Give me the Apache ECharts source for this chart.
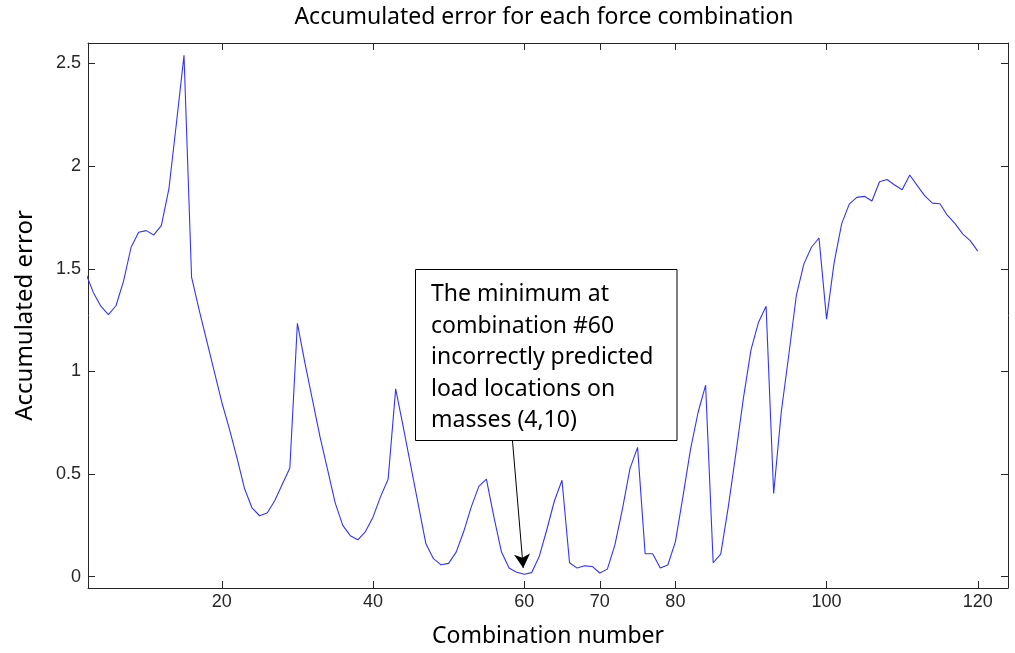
<!DOCTYPE html>
<html>
<head>
<meta charset="utf-8">
<script src="https://cdn.jsdelivr.net/npm/echarts@6/dist/echarts.min.js"></script>
<style>
html,body{margin:0;padding:0;background:#fff;}
#chart{width:1015px;height:653px;}
</style>
</head>
<body>
<div id="chart"></div>
<script>
const combinations = [2,3,4,5,6,7,8,9,10,11,12,13,14,15,16,17,18,19,20,21,22,23,24,25,26,27,28,29,30,31,32,33,34,35,36,37,38,39,40,41,42,43,44,45,46,47,48,49,50,51,52,53,54,55,56,57,58,59,60,61,62,63,64,65,66,67,68,69,70,71,72,73,74,75,76,77,78,79,80,81,82,83,84,85,86,87,88,89,90,91,92,93,94,95,96,97,98,99,100,101,102,103,104,105,106,107,108,109,110,111,112,113,114,115,116,117,118,119,120];
const accumulatedError = [
  1.48,1.385,1.318,1.277,1.32,1.44,1.605,1.678,1.686,1.665,
  1.71,1.889,2.21,2.54,1.46,1.30,1.15,1.00,0.85,0.72,
  0.58,0.43,0.335,0.297,0.31,0.37,0.45,0.53,1.234,1.04,
  0.86,0.68,0.52,0.36,0.25,0.20,0.18,0.22,0.29,0.39,
  0.475,0.915,0.73,0.54,0.35,0.16,0.088,0.058,0.065,0.12,
  0.22,0.34,0.44,0.475,0.29,0.12,0.042,0.022,0.012,0.02,
  0.10,0.23,0.37,0.47,0.068,0.042,0.053,0.05,0.018,0.037,
  0.155,0.33,0.528,0.63,0.112,0.112,0.042,0.057,0.17,0.39,
  0.62,0.80,0.933,0.068,0.11,0.34,0.60,0.87,1.105,1.24,
  1.318,0.405,0.80,1.08,1.37,1.524,1.605,1.65,1.255,1.53,
  1.72,1.815,1.848,1.853,1.83,1.924,1.935,1.908,1.885,1.957,
  1.905,1.855,1.82,1.817,1.76,1.72,1.67,1.637,1.586
];
const xTickValues = [20,40,60,70,80,100,120];
const yTickValues = [0,0.5,1,1.5,2,2.5];
const annotationLines = ['The minimum at','combination #60','incorrectly predicted','load locations on','masses (4,10)'];
const arrowFrom = [58.45, 0.663];
const arrowTo = [59.87, 0.042];

const axisColor = '#262626';
const chart = echarts.init(document.getElementById('chart'), null, {renderer:'canvas'});
const xBase = {
  type:'value', min:2.3, max:124,
  splitLine:{show:false},
  axisLine:{show:true, onZero:false, lineStyle:{color:axisColor, width:1}},
  axisTick:{show:true, inside:true, length:7, customValues:xTickValues, lineStyle:{color:axisColor}},
};
const yBase = {
  type:'value', min:-0.055, max:2.6,
  splitLine:{show:false},
  axisLine:{show:true, onZero:false, lineStyle:{color:axisColor, width:1}},
  axisTick:{show:true, inside:true, length:7, customValues:yTickValues, lineStyle:{color:axisColor}},
};
chart.setOption({
  animation:false,
  backgroundColor:'#fff',
  title:{
    text:'Accumulated error for each force combination',
    left:539, top:1, textAlign:'center',
    textStyle:{fontFamily:'Noto Sans', fontSize:23, fontWeight:'normal', color:'#000'}
  },
  grid:{left:88, right:7, top:43, bottom:65, containLabel:false, outerBoundsMode:'none'},
  xAxis:[
    Object.assign({}, xBase, {
      position:'bottom',
      axisLabel:{show:true, customValues:xTickValues, fontFamily:'Liberation Sans', fontSize:18, color:axisColor, margin:5},
      name:'Combination number', nameLocation:'middle', nameGap:37,
      nameTextStyle:{fontFamily:'Noto Sans', fontSize:23, color:'#000'}
    }),
    Object.assign({}, xBase, {position:'top', axisLabel:{show:false}})
  ],
  yAxis:[
    Object.assign({}, yBase, {
      position:'left',
      axisLabel:{show:true, customValues:yTickValues, fontFamily:'Liberation Sans', fontSize:18, color:axisColor, margin:7},
      name:'Accumulated error', nameLocation:'middle', nameGap:51,
      nameTextStyle:{fontFamily:'Noto Sans', fontSize:24, color:'#000'}
    }),
    Object.assign({}, yBase, {position:'right', axisLabel:{show:false}})
  ],
  series:[{
    type:'line',
    xAxisIndex:0, yAxisIndex:0,
    data: combinations.map((c,i)=>[c, accumulatedError[i]]),
    showSymbol:false, symbol:'none',
    clip:true,
    lineStyle:{color:'#3333ff', width:1.1},
    markLine:{
      silent:true,
      symbol:['none','arrow'],
      symbolSize:[12,14],
      label:{show:false},
      lineStyle:{color:'#000', width:1, type:'solid'},
      data:[[{coord:arrowFrom},{coord:arrowTo}]]
    }
  }],
  graphic:[
    {type:'rect', z:100, shape:{x:415.5, y:269.5, width:261.5, height:171},
     style:{fill:'#fff', stroke:'#000', lineWidth:1}},
    {type:'text', z:101, x:431, y:279,
     style:{text:annotationLines.join('\n'), font:'23px "Noto Sans"', fill:'#000', lineHeight:31.5, verticalAlign:'top', align:'left'}}
  ]
});
</script>
</body>
</html>
